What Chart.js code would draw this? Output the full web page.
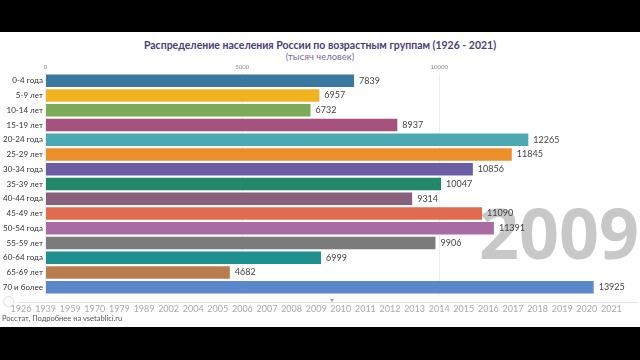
<!DOCTYPE html>
<html>
<head>
<meta charset="utf-8">
<script src="https://cdn.jsdelivr.net/npm/chart.js@4"></script>
<style>
  html, body { margin: 0; padding: 0; background: #000; }
  body { width: 640px; height: 360px; position: relative; overflow: hidden; font-family: Lato, sans-serif; }
  .panel { position: absolute; left: 0; top: 32px; width: 640px; height: 295px; background: #fff; }
  .title { position: absolute; left: 0; width: 640px; top: 39px; text-align: center; font-weight: bold; font-size: 10.5px; color: #4a3d78; }
  .subtitle { position: absolute; left: 0; width: 640px; top: 51px; text-align: center; font-size: 9.5px; color: #7a6d98; }
  .bigyear { position: absolute; left: 479px; top: 197px; font-size: 70px; font-weight: bold; color: #c8c8c8; line-height: 1; font-family: "Noto Sans", sans-serif; }
  .chart-wrap { position: absolute; left: 0; top: 62px; width: 640px; height: 240px; }
  .timeline-line { position: absolute; left: 18px; top: 302px; width: 620px; height: 1px; background: #e2e2e2; }
  .thumb { position: absolute; left: 330px; top: 299px; width: 0; height: 0; border-left: 2px solid transparent; border-right: 2px solid transparent; border-top: 3px solid #999; }
  .play { position: absolute; left: 3px; top: 296px; width: 9px; height: 9px; border: 1px solid #ddd; border-radius: 50%; }
  .yr { position: absolute; top: 303px; font-size: 9px; color: #aaa; transform: translateX(-50%); }
  .source { position: absolute; left: 2px; top: 314px; font-size: 7.5px; color: #555; }
</style>
</head>
<body>
<div class="panel"></div>
<div class="title">Распределение населения России по возрастным группам (1926 - 2021)</div>
<div class="subtitle">(тысяч человек)</div>
<div class="bigyear" id="bigyear"></div>
<div class="chart-wrap"><canvas id="myChart"></canvas></div>
<div class="timeline-line"></div>
<div class="thumb"></div>
<div class="play"></div>
<div id="timeline"></div>
<div class="source">Росстат, Подробнее на vsetablici.ru</div>

<script>
  const ageGroups = ["0-4 года", "5-9 лет", "10-14 лет", "15-19 лет", "20-24 года", "25-29 лет",
    "30-34 года", "35-39 лет", "40-44 года", "45-49 лет", "50-54 года", "55-59 лет",
    "60-64 года", "65-69 лет", "70 и более"];
  const population2009 = [7839, 6957, 6732, 8937, 12265, 11845, 10856, 10047, 9314,
    11090, 11391, 9906, 6999, 4682, 13925];
  const barColors = ["#3a78a0", "#f2b320", "#7bab5a", "#a5527f", "#4aa9b3", "#ec8f2a",
    "#6c5ea4", "#238867", "#87607d", "#e06c4f", "#aa6aa4", "#7b7b7b",
    "#1f9090", "#b87c4f", "#5b87cc"];
  const timelineYears = ["1926", "1939", "1959", "1970", "1979", "1989", "2002", "2004", "2005",
    "2006", "2007", "2008", "2009", "2010", "2011", "2012", "2013", "2014", "2015", "2016",
    "2017", "2018", "2019", "2020", "2021"];
  const currentYear = "2009";
  const axisTicks = [0, 5000, 10000];

  document.getElementById("bigyear").textContent = currentYear;

  let tl = document.getElementById("timeline");
  timelineYears.forEach((y, i) => {
    let s = document.createElement("span");
    s.className = "yr";
    s.style.left = (21 + i * 24.6) + "px";
    s.textContent = y;
    tl.appendChild(s);
  });

  // value labels at bar ends
  const valueLabels = {
    id: "valueLabels",
    afterDatasetsDraw(chart) {
      const ctx = chart.ctx;
      const meta = chart.getDatasetMeta(0);
      ctx.save();
      ctx.font = "9px Lato";
      ctx.fillStyle = "#444";
      ctx.textBaseline = "middle";
      meta.data.forEach((bar, i) => {
        ctx.fillText(chart.data.datasets[0].data[i], bar.x + 5, bar.y);
      });
      ctx.restore();
    }
  };

  let element = document.getElementById("myChart").getContext("2d");
  new Chart(element, {
    type: "bar",
    data: {
      labels: ageGroups,
      datasets: [{
        data: population2009,
        backgroundColor: barColors,
        categoryPercentage: 1,
        barPercentage: 0.84,
      }],
    },
    plugins: [valueLabels],
    options: {
      indexAxis: "y",
      responsive: true,
      maintainAspectRatio: false,
      animation: false,
      layout: { padding: { left: 0, right: 4, top: 0, bottom: 5.6 } },
      plugins: { legend: { display: false }, tooltip: { enabled: false } },
      scales: {
        x: {
          position: "top",
          min: 0,
          max: 15000,
          afterFit: (s) => { s.height = 11.3; },
          afterBuildTicks: (s) => { s.ticks = axisTicks.map((v) => ({ value: v })); },
          ticks: {
            padding: 3,
            color: "#888",
            font: { size: 6, family: "Lato" },
            callback: (v) => String(v),
          },
          grid: { color: "#eeeeee", drawTicks: false },
          border: { display: false },
        },
        y: {
          afterFit: (s) => { s.width = 45.5; },
          ticks: {
            padding: 2.5,
            color: "#333",
            font: { size: 8, family: "Lato" },
          },
          grid: { display: false, drawTicks: false },
          border: { display: false },
        },
      },
    },
  });
</script>
</body>
</html>
